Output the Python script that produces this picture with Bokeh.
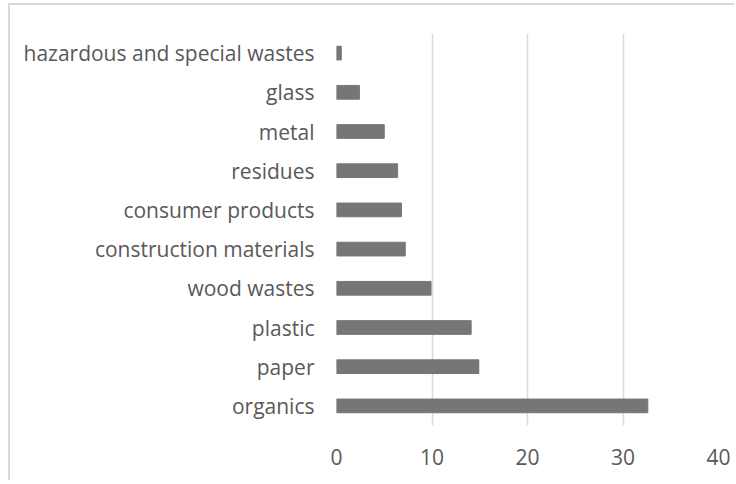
from bokeh.plotting import figure
from bokeh.models import FactorRange, Range1d, FixedTicker, ColumnDataSource
from bokeh.embed import file_html
from bokeh.resources import INLINE

categories = ["organics", "paper", "plastic", "wood wastes", "construction materials",
              "consumer products", "residues", "metal", "glass", "hazardous and special wastes"]
values = [32.6, 14.9, 14.1, 9.9, 7.2, 6.8, 6.4, 5.0, 2.4, 0.5]
x_ticks = [0, 10, 20, 30, 40]

src = ColumnDataSource(dict(cat=categories, val=values))

p = figure(width=734, height=480, y_range=FactorRange(factors=categories, range_padding=0),
           x_range=Range1d(0, 40), output_backend="svg", toolbar_location=None,
           min_border_left=336, min_border_right=16, min_border_top=33, min_border_bottom=55)
p.border_fill_color = None
p.background_fill_color = None
p.styles = {"background": "linear-gradient(#d9d9d9,#d9d9d9) 8px 3px / 2px calc(100% - 3px) no-repeat, "
                          "linear-gradient(#d9d9d9,#d9d9d9) 8px 3px / calc(100% - 8px) 2px no-repeat, white"}

p.hbar(y="cat", right="val", left=0, height=0.35, source=src, color="#767676")

p.outline_line_color = None
p.ygrid.grid_line_color = None
p.xgrid.grid_line_color = "#d9d9d9"
p.xgrid.grid_line_width = 1.5
p.xaxis.ticker = FixedTicker(ticks=x_ticks)

font = "Open Sans"
for ax in (p.xaxis, p.yaxis):
    ax.axis_line_color = None
    ax.major_tick_line_color = None
    ax.minor_tick_line_color = None
    ax.major_label_text_color = "#595959"
    ax.major_label_text_font = font
    ax.major_label_text_font_size = "21px"
p.yaxis.major_label_standoff = 16
p.xaxis.major_label_standoff = 17
p.y_range.range_padding = 0

open("out.html", "w").write(file_html(p, INLINE))
